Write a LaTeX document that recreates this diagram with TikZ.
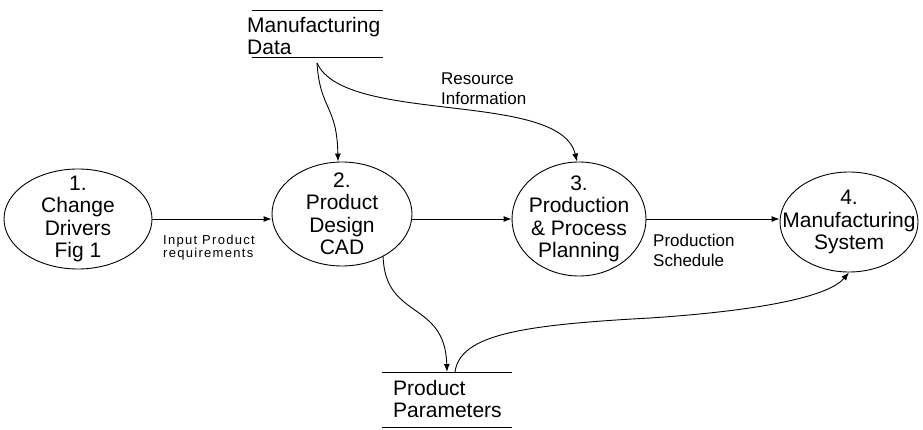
\documentclass[tikz,border=0pt]{standalone}
\usepackage{fontspec}
\setmainfont{Liberation Sans}
\newfontfamily\spacedfont[LetterSpace=10]{Liberation Sans}
\usetikzlibrary{shapes.geometric,arrows.meta}
\tikzset{
	proc/.style={draw, ellipse, line width=0.9pt, inner sep=0pt},
	proctext/.style={align=center, inner sep=0pt, font=\fontsize{21}{22.5}\selectfont},
	storetext/.style={align=left, inner sep=0pt, font=\fontsize{21}{22}\selectfont},
	flow/.style={-{Latex[length=8pt,width=6pt]}, line width=0.9pt},
	lbl/.style={align=left, inner sep=0pt, font=\fontsize{17}{20}\selectfont},
	smalllbl/.style={align=left, inner sep=0pt, font=\spacedfont\fontsize{13}{12}\selectfont}
}
\begin{document}
\begin{tikzpicture}[x=1pt,y=-1pt]
	\useasboundingbox (0,0) rectangle (923,430);
	\node[proc, minimum width=148, minimum height=100] (p1) at (78,219) {};
	\node[proctext] (t1) at (p1) {1.\\Change\\Drivers\\Fig 1};
	\node[proc, minimum width=140, minimum height=104] (p2) at (342,214) {};
	\node[proctext] (t2) at (p2) {2.\\Product\\Design\\CAD};
	\node[proc, minimum width=134, minimum height=114] (p3) at (579,219) {};
	\node[proctext] (t3) at (p3) {3.\\Production\\\& Process\\Planning};
	\node[proc, minimum width=138, minimum height=100] (p4) at (849,222) {};
	\node[proctext] (t4) at (p4) {4.\\Manufacturing\\System};
	\node[storetext, anchor=base west] (md) at (247,55) {Manufacturing\\Data};
	\draw[line width=0.9pt] (252,10)--(383,10) (252,57)--(383,57);
	\node[storetext, anchor=base west] (pp) at (393,417) {Product\\Parameters};
	\draw[line width=0.9pt] (382,372)--(512,372) (382,427)--(512,427);
	\coordinate (mdout) at (317,63);
	\coordinate (ppin) at (447,372);
	\coordinate (ppout) at (455,372);
	\draw[flow] (p1.east) -- (p1.east -| p2.west);
	\draw[flow] (p2.east |- p3.west) -- (p3.west);
	\draw[flow] (p3.east) -- (p3.east -| p4.west);
	\draw[flow] (mdout) .. controls (320,110) and (337,105) .. ([xshift=-4]p2.north);
	\draw[flow] (mdout) .. controls (345,125) and (560,90) .. ([xshift=-2]p3.north);
	\draw[flow] (p2.-46) .. controls (385,320) and (445,300) .. (ppin);
	\draw[flow] (ppout) .. controls (460,335) and (520,325) .. (650,318) .. controls (770,310) and (830,295) .. (p4.south);
	\node[smalllbl, anchor=base west] (inreq) at (163,258) {Input Product\\requirements};
	\node[lbl, anchor=base west] (resinfo) at (441,105) {Resource\\Information};
	\node[lbl, anchor=base west] (sched) at (653,266) {Production\\Schedule};
\end{tikzpicture}
\end{document}
